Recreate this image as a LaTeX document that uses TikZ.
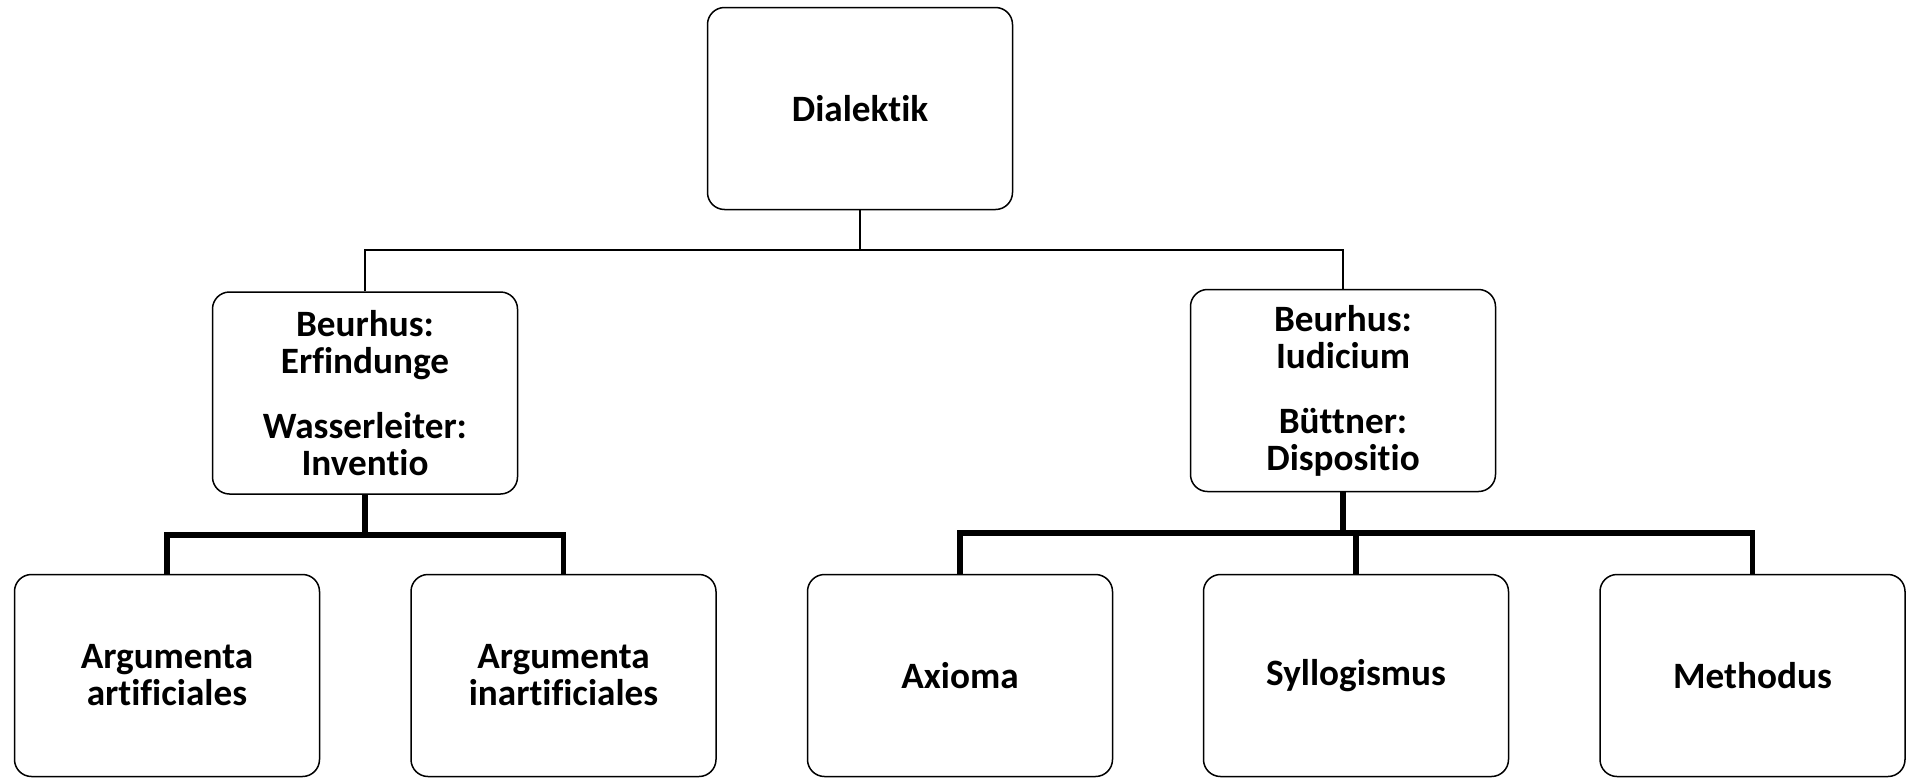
\documentclass[tikz,border=0pt]{standalone}
\usepackage{fontspec}
\setmainfont[Ligatures=NoCommon]{Carlito}
\usepackage{tikz}
\usetikzlibrary{calc}
\usetikzlibrary{positioning}

\begin{document}
\begin{tikzpicture}[x=0.5pt, y=-0.5pt,
		termbox/.style={draw, line width=0.75pt, rounded corners=8.5pt,
			minimum width=152.5pt, minimum height=101pt, align=center,
			font=\fontsize{18.6}{18.5}\selectfont\bfseries},
		link/.style={line width=0.75pt},
		biglink/.style={line width=2.8pt}]
		\useasboundingbox (0,0) rectangle (1906,777);

		\node[termbox] (dial) at (860,108.5) {Dialektik};

		\node[termbox] (erf) at (365,393) {Beurhus:\\ Erfindunge\\[14pt] Wasserleiter:\\ Inventio};
		\node[termbox] (iud) at (1343,390.5) {Beurhus:\\ Iudicium\\[14pt] B\"uttner:\\ Dispositio};

		\node[termbox] (artif) at (167,675.5) {Argumenta\\ artificiales};
		\node[termbox] (inart) at (563.5,675.5) {Argumenta\\ inartificiales};
		\node[termbox] (axi) at (960,675.5) {Axioma};
		\node[termbox] (syl) at (1356,675.5) {Syllogismus};
		\node[termbox] (meth) at (1752.5,675.5) {Methodus};

		\coordinate (tbus) at (860,250);
		\coordinate (lbus) at (365,535);
		\coordinate (rbus) at (1343,533);

		\draw[link] (dial.south) -- (tbus);
		\draw[link] (erf.north) |- (tbus) -| (iud.north);

		\draw[biglink] (erf.south) -- (lbus);
		\draw[biglink] (artif.north) |- (lbus) -| (inart.north);

		\draw[biglink] (iud.south) -- (rbus);
		\draw[biglink] (axi.north) |- (rbus) -| (meth.north);
		\draw[biglink] (syl.north) -- (syl.north |- rbus);
    \end{tikzpicture}
\end{document}
